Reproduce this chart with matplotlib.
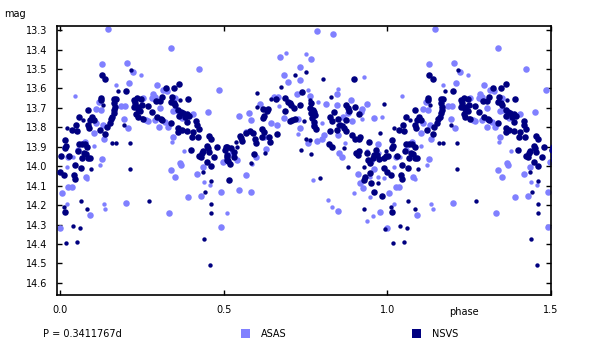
import matplotlib
matplotlib.use("Agg")
import matplotlib.pyplot as plt
from matplotlib.patches import Rectangle
import numpy as np

# ---- data (phase in 0..1, magnitude) ----
nsvs_big_phase = [0.128,0.138,0.202,0.125,0.125,0.165,0.225,0.235,0.229,0.239,0.251,0.247,0.225,0.237,0.245,0.233,0.254,0.237,
 0.171,0.165,0.168,0.166,0.164,0.160,0.156,0.086,0.058,0.098,0.092,0.104,0.086,0.089,0.049,0.037,0.052,0.153,0.144,0.138,0.122,
 0.015,0.018,0.015,0.058,0.067,0.076,0.083,0.055,0.073,0.079,0.086,0.092,0.003,0.028,0.067,0.046,0.064,0.000,0.012,0.043,0.046,
 0.015,0.425,0.400,0.269,
 0.364,0.348,0.324,0.342,0.312,0.306,0.293,0.391,0.339,0.348,0.351,0.281,0.296,0.309,0.312,0.339,0.361,0.370,0.376,0.388,0.394,
 0.364,0.382,0.388,0.416,0.419,0.425,0.361,0.361,0.373,0.388,0.406,0.403,0.422,0.455,0.461,0.449,0.452,0.455,0.437,0.434,0.431,
 0.480,0.471,0.449,0.461,0.507,0.510,0.504,0.510,0.513,0.516,
 0.660,0.687,0.697,0.706,0.703,0.739,0.733,0.621,0.633,0.636,0.621,0.624,0.687,0.715,0.703,0.709,0.718,0.550,0.556,0.553,0.568,
 0.581,0.590,0.596,0.599,0.617,0.624,0.617,0.639,0.642,0.663,0.510,0.510,0.519,0.523,0.532,0.532,0.593,
 0.898,0.767,0.764,0.773,0.776,0.767,0.779,0.770,0.776,0.776,0.782,0.874,0.880,0.883,0.901,0.914,0.837,0.849,0.874,0.855,0.868,
 0.874,0.846,0.825,0.831,0.825,0.892,0.901,0.914,0.917,0.944,0.822,0.831,0.904,0.914,0.910,0.938,0.941,0.947,0.956,0.966,0.959,
 0.969,0.975,0.990,0.996,0.947,0.990,0.932,0.929,0.950,0.959,0.984]
nsvs_big_mag = [13.531,13.552,13.613,13.649,13.660,13.655,13.660,13.649,13.674,13.694,13.687,13.656,13.694,13.708,13.715,13.732,13.756,13.749,
 13.656,13.677,13.694,13.711,13.728,13.746,13.756,13.711,13.747,13.747,13.762,13.762,13.788,13.804,13.788,13.814,13.819,13.778,13.798,13.834,13.814,
 13.865,13.896,13.906,13.886,13.886,13.886,13.901,13.922,13.932,13.937,13.958,13.958,13.948,13.948,13.958,13.994,14.009,14.030,14.045,14.045,14.066,
 14.235,13.948,13.917,13.690,
 13.578,13.598,13.598,13.644,13.644,13.665,13.665,13.655,13.670,13.675,13.685,13.721,13.747,13.757,13.762,13.778,13.711,13.721,13.726,13.732,13.742,
 13.742,13.747,13.773,13.768,13.788,13.809,13.804,13.824,13.814,13.819,13.824,13.850,13.850,13.845,13.860,13.896,13.906,13.927,13.922,13.932,13.953,
 13.901,13.953,13.978,13.999,13.901,13.901,13.917,13.953,13.973,14.071,
 13.655,13.649,13.670,13.685,13.675,13.619,13.685,13.706,13.716,13.706,13.752,13.742,13.716,13.701,13.768,13.762,13.757,13.845,13.870,13.855,13.829,
 13.819,13.829,13.860,13.881,13.809,13.824,13.850,13.850,13.876,13.835,13.942,13.968,13.989,13.906,13.927,13.953,13.937,
 13.552,13.675,13.701,13.711,13.721,13.726,13.737,13.752,13.773,13.793,13.809,13.685,13.701,13.716,13.696,13.732,13.721,13.757,13.762,13.788,13.804,
 13.819,13.814,13.747,13.768,13.819,13.840,13.860,13.860,13.850,13.876,13.886,13.901,13.932,13.922,13.942,13.932,13.968,13.984,13.958,13.917,13.942,
 13.942,13.963,13.958,13.948,14.035,14.009,14.055,14.071,14.086,14.133,14.153]

nsvs_small_phase = [0.217,0.177,0.131,0.196,0.159,0.171,0.214,0.021,0.070,0.095,0.214,0.064,0.083,0.012,0.040,0.061,0.018,0.052,0.272,0.251,
 0.367,0.437,0.461,0.461,0.461,0.443,0.440,0.458,0.584,0.626,0.794,0.880,0.929,0.993,0.602,0.675,0.718,0.752,0.645,0.764,0.602,0.746,
 0.752,0.764,0.736,0.767,0.538,0.541,0.804,0.828,0.990,0.849,0.865,0.978,0.996,0.868,0.929,0.972]
nsvs_small_mag = [13.506,13.613,13.685,13.788,13.881,13.881,13.881,13.804,13.762,14.014,14.014,14.179,14.220,14.210,14.307,14.317,14.395,14.389,14.179,13.752,
 13.660,14.030,14.076,14.194,14.240,14.133,14.374,14.508,13.984,13.932,14.061,14.004,14.220,14.323,13.624,13.593,13.531,13.516,13.655,13.660,13.696,13.768,
 13.860,13.865,13.917,13.937,13.876,13.901,13.552,13.644,13.680,13.788,13.788,13.829,13.922,13.906,14.004,14.086]

asas_big_phase = [0.147,0.128,0.205,0.223,0.211,0.119,0.110,0.125,0.186,0.199,0.254,0.196,0.208,0.110,0.131,0.104,0.134,0.076,0.056,0.025,
 0.128,0.079,0.025,0.037,0.006,0.202,0.092,0.000,0.339,0.425,0.296,0.486,0.284,0.290,0.281,0.290,0.315,0.327,0.351,0.306,0.345,0.354,
 0.452,0.263,0.269,0.290,0.321,0.303,0.330,0.373,0.406,0.345,0.367,0.370,0.339,0.351,0.437,0.419,0.498,0.492,0.431,0.391,0.333,0.492,
 0.568,0.547,0.584,0.541,0.849,0.910,0.926,0.978,0.672,0.767,0.733,0.684,0.697,0.733,0.654,0.666,0.724,0.764,0.611,0.577,0.584,0.547,
 0.645,0.663,0.684,0.727,0.733,0.758,0.568,0.624,0.630,0.599,0.526,0.785,0.834,0.846,0.813,0.846,0.889,0.938,0.923,0.920,0.880,0.892,
 0.959,0.865,0.776,0.849,0.807,0.801,0.785,0.972,0.852,0.862,0.950,0.959,0.917]
asas_big_mag = [13.295,13.475,13.470,13.516,13.572,13.670,13.706,13.711,13.690,13.690,13.649,13.757,13.804,13.778,13.788,13.829,13.860,13.876,13.917,13.953,
 13.963,14.055,14.107,14.107,14.138,14.189,14.251,14.317,13.393,13.500,13.583,13.608,13.629,13.644,13.649,13.655,13.608,13.613,13.649,13.701,13.716,13.711,
 13.721,13.762,13.768,13.762,13.773,13.798,13.798,13.752,13.732,13.850,13.984,13.994,14.019,14.055,14.004,14.040,13.978,14.133,14.153,14.158,14.240,14.312,
 14.045,14.122,14.133,13.968,14.230,14.040,14.112,14.235,13.439,13.449,13.490,13.531,13.567,13.557,13.644,13.644,13.629,13.639,13.680,13.726,13.762,13.742,
 13.778,13.788,13.752,13.757,13.804,13.881,13.824,13.850,13.912,13.953,13.932,13.305,13.320,13.629,13.680,13.685,13.660,13.680,13.706,13.721,13.726,13.768,
 13.752,13.747,13.788,13.840,13.840,13.860,13.870,13.886,13.932,13.953,13.973,14.014,14.086]

asas_small_phase = [0.247,0.171,0.046,0.012,0.104,0.040,0.122,0.021,0.083,0.021,0.134,0.138,0.342,0.379,0.440,0.458,0.510,0.691,0.752,0.758,
 0.669,0.727,0.587,0.773,0.819,0.831,0.947,0.956,0.938,0.929,0.849,0.788,0.984,0.923,0.801,0.872,0.975,0.938,0.972,0.947,0.898,0.990]
asas_small_mag = [13.531,13.583,13.639,13.901,13.896,13.953,13.994,14.004,14.066,14.194,14.194,14.220,13.876,13.922,14.081,14.097,14.240,13.418,13.423,13.608,
 13.690,13.835,13.989,14.071,14.174,14.210,14.158,14.256,14.281,13.541,13.603,13.670,13.747,13.757,13.778,13.881,13.932,13.922,14.055,14.055,14.138,14.061]

period_text = "P = 0.3411767d"
series_names = ["ASAS", "NSVS"]
asas_color = "#8080ff"
nsvs_color = "#000080"

x_ticks = [0.0, 0.5, 1.0, 1.5]
y_ticks = [13.3, 13.4, 13.5, 13.6, 13.7, 13.8, 13.9, 14.0, 14.1, 14.2, 14.3, 14.4, 14.5, 14.6]


def folded(ph, mg):
    ph = np.asarray(ph); mg = np.asarray(mg)
    return np.concatenate([ph, ph + 1.0]), np.concatenate([mg, mg])


plt.rcParams['font.family'] = ['DejaVu Sans']
fig = plt.figure(figsize=(6.0, 3.52), dpi=100)
ax = fig.add_axes([57/600, 1 - 295/352, (551 - 57)/600, (295 - 26)/352])

S_BIG, S_SMALL = 22, 10
for ph, mg, s in [(asas_big_phase, asas_big_mag, S_BIG), (asas_small_phase, asas_small_mag, S_SMALL)]:
    x, y = folded(ph, mg)
    ax.scatter(x, y, s=s, c=asas_color, linewidths=0, zorder=2)
for ph, mg, s in [(nsvs_big_phase, nsvs_big_mag, S_BIG), (nsvs_small_phase, nsvs_small_mag, S_SMALL)]:
    x, y = folded(ph, mg)
    ax.scatter(x, y, s=s, c=nsvs_color, linewidths=0, zorder=3)

ax.set_xlim(-0.0092, 1.5)
ax.set_ylim(14.662, 13.279)
ax.set_xticks(x_ticks)
ax.set_xticklabels([f"{t:.1f}" for t in x_ticks])
ax.set_yticks(y_ticks)
ax.set_yticklabels([f"{t:.1f}" for t in y_ticks])
ax.tick_params(direction='in', length=3.5, width=1, top=True, right=True,
               labelsize=7, pad=7, colors='black')
for sp in ax.spines.values():
    sp.set_linewidth(1.2)
    sp.set_color('black')

fig.text(15/600, 1 - 14/352, "mag", fontsize=7, ha='center', va='center')
fig.text(464/600, 1 - 312/352, "phase", fontsize=7, ha='center', va='center')

fig.text(43/600, 1 - 334/352, period_text, fontsize=7, ha='left', va='center')
fig.patches.append(Rectangle((241/600, 1 - 338/352), 9/600, 9/352, transform=fig.transFigure,
                             facecolor=asas_color, edgecolor='none'))
fig.text(261/600, 1 - 334/352, series_names[0], fontsize=7, ha='left', va='center')
fig.patches.append(Rectangle((412/600, 1 - 338/352), 9/600, 9/352, transform=fig.transFigure,
                             facecolor=nsvs_color, edgecolor='none'))
fig.text(432/600, 1 - 334/352, series_names[1], fontsize=7, ha='left', va='center')

fig.savefig("out.png", dpi=100)
